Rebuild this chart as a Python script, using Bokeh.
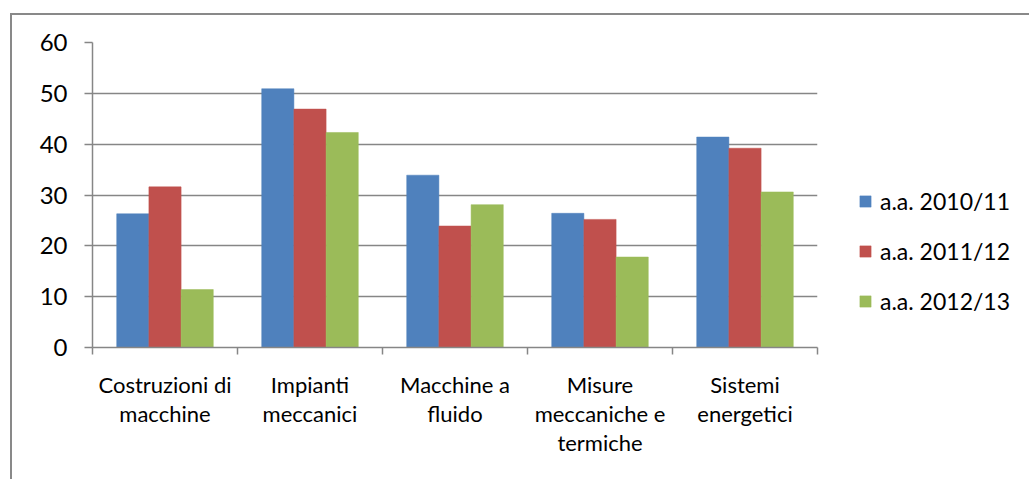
from bokeh.plotting import figure
from bokeh.models import (Range1d, LinearAxis, FixedTicker, Legend, LegendItem,
                          ColumnDataSource, Grid)
from bokeh.transform import dodge
from bokeh.embed import file_html
from bokeh.resources import INLINE

categories = ["Costruzioni di\nmacchine", "Impianti\nmeccanici", "Macchine a\nfluido",
              "Misure\nmeccaniche e\ntermiche", "Sistemi\nenergetici"]
series_names = ["a.a. 2010/11", "a.a. 2011/12", "a.a. 2012/13"]
v2010 = [26.3, 50.9, 33.9, 26.4, 41.4]
v2011 = [31.6, 46.9, 23.9, 25.2, 39.2]
v2012 = [11.4, 42.3, 28.1, 17.8, 30.6]
y_ticks = [0, 10, 20, 30, 40, 50, 60]

colors = ["#4F81BD", "#C0504D", "#9BBB59"]
FONT = "Lato"
GRAY = "#868686"

xc = [i + 0.5 for i in range(len(categories))]
bounds = list(range(len(categories) + 1))
src = ColumnDataSource(dict(x=xc, a=v2010, b=v2011, c=v2012))

p = figure(width=1000, height=464, output_backend="svg", toolbar_location=None,
           x_range=Range1d(0, len(categories)), y_range=Range1d(0, 60),
           frame_width=725, frame_height=305,
           min_border_left=80, min_border_top=27, min_border_right=190, min_border_bottom=132,
           x_axis_type=None, y_axis_type=None)
p.outline_line_color = None
p.background_fill_color = "white"
p.border_fill_color = "white"
p.margin = (13, 0, 0, 10)
p.styles = {"border-left": "2px solid #898989", "border-top": "2px solid #898989"}

bw = 0.222
renderers = []
for off, col, c in zip([-bw, 0, bw], ["a", "b", "c"], colors):
    r = p.vbar(x=dodge("x", off, range=p.x_range), top=col, width=bw, bottom=0,
               source=src, fill_color=c, line_color=c, line_width=0.5)
    renderers.append(r)

# y axis
yax = LinearAxis(ticker=FixedTicker(ticks=y_ticks))
yax.axis_line_color = GRAY
yax.axis_line_width = 1.5
yax.major_tick_line_color = GRAY
yax.major_tick_line_width = 1.5
yax.major_tick_out = 8
yax.major_tick_in = 0
yax.minor_tick_line_color = None
yax.major_label_text_font = FONT
yax.major_label_text_font_size = "24px"
yax.major_label_text_color = "black"
yax.major_label_standoff = 17
p.add_layout(yax, "left")

g = Grid(dimension=1, ticker=FixedTicker(ticks=y_ticks))
g.grid_line_color = GRAY
g.grid_line_width = 1.5
p.add_layout(g)

# x axis: category labels at centres, boundary ticks as minor ticks
xax = LinearAxis(ticker=FixedTicker(ticks=xc, minor_ticks=bounds))
xax.major_label_overrides = {x: c for x, c in zip(xc, categories)}
xax.axis_line_color = GRAY
xax.axis_line_width = 1.5
xax.major_tick_line_color = None
xax.major_tick_out = 0
xax.major_tick_in = 0
xax.minor_tick_line_color = GRAY
xax.minor_tick_line_width = 1.5
xax.minor_tick_out = 7
xax.minor_tick_in = 0
xax.major_label_text_font = FONT
xax.major_label_text_font_size = "22px"
xax.major_label_text_line_height = 1.08
xax.major_label_text_color = "black"
xax.major_label_standoff = 16
p.add_layout(xax, "below")

legend = Legend(items=[LegendItem(label=n, renderers=[r]) for n, r in zip(series_names, renderers)],
                location=(41, 31))
legend.label_text_font = FONT
legend.label_text_font_size = "23px"
legend.label_text_color = "black"
legend.glyph_width = 14
legend.glyph_height = 14
legend.label_height = 30
legend.spacing = 20
legend.padding = 0
legend.margin = 0
legend.label_standoff = 8
legend.border_line_color = None
legend.background_fill_alpha = 0
p.add_layout(legend, "right")

open("out.html", "w").write(file_html(p, INLINE))
